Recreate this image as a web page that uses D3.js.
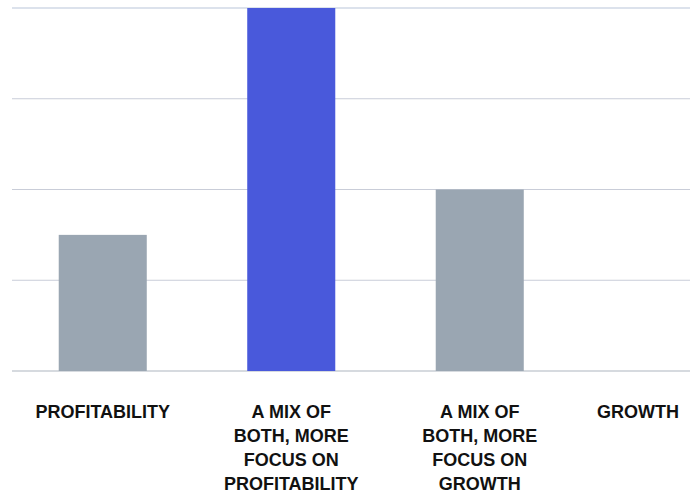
<!DOCTYPE html>
<html>
<head>
<meta charset="utf-8">
<script src="https://cdn.jsdelivr.net/npm/d3@7"></script>
<style>
  html, body { margin: 0; padding: 0; background: #fff; }
  svg { display: block; }
  .tick-label { font-family: "Liberation Sans", Arial, sans-serif; font-weight: 700; font-size: 18px; fill: #111; }
</style>
</head>
<body>
<div id="chart"></div>
<script>
// data
const categories = ['PROFITABILITY', 'A MIX OF\nBOTH, MORE\nFOCUS ON\nPROFITABILITY', 'A MIX OF\nBOTH, MORE\nFOCUS ON\nGROWTH', 'GROWTH']
const values = [3, 8, 4, 0]
const highlighted = [false, true, false, false]
const yTicks = [0, 2, 4, 6, 8]

const width = 690, height = 495
const svg = d3.select('#chart').append('svg')
    .attr('width', width)
    .attr('height', height)

const x = d3.scaleBand()
    .domain(categories)
    .range([8.5, 762.5])
    .paddingInner(0.533)
    .paddingOuter(0.2665)

const y = d3.scaleLinear()
    .domain([0, 8])
    .range([371, 8])

// gridlines
svg.append('g').selectAll('line').data(yTicks).enter()
    .append('line')
    .attr('x1', 12)
    .attr('x2', width)
    .attr('y1', d => y(d))
    .attr('y2', d => y(d))
    .attr('stroke', d => d === 0 ? '#d6dadf' : (d === 8 ? '#b9c5da' : '#c9cdd8'))
    .attr('stroke-width', d => d === 0 ? 2 : 1.2)

// bars
svg.append('g').selectAll('rect').data(categories).enter()
    .append('rect')
    .attr('x', d => x(d))
    .attr('width', x.bandwidth())
    .attr('y', (d, i) => y(values[i]))
    .attr('height', (d, i) => y(0) - y(values[i]))
    .attr('fill', (d, i) => highlighted[i] ? '#4959db' : '#9aa6b2')

// category labels
const labels = svg.append('g').selectAll('text').data(categories).enter()
    .append('text')
    .attr('class', 'tick-label')
    .attr('text-anchor', 'middle')
    .attr('x', d => x(d) + x.bandwidth() / 2)
    .attr('y', 418)

labels.each(function (d) {
    const t = d3.select(this)
    d.split('\n').forEach((line, i) => {
        t.append('tspan')
            .attr('x', t.attr('x'))
            .attr('dy', i === 0 ? 0 : 24)
            .text(line)
    })
})

// keep labels inside the view
labels.each(function () {
    const box = this.getBBox()
    const overflow = box.x + box.width - (width - 11)
    if (overflow > 0) {
        const t = d3.select(this)
        const nx = +t.attr('x') - overflow
        t.attr('x', nx)
        t.selectAll('tspan').attr('x', nx)
    }
})
</script>
</body>
</html>
